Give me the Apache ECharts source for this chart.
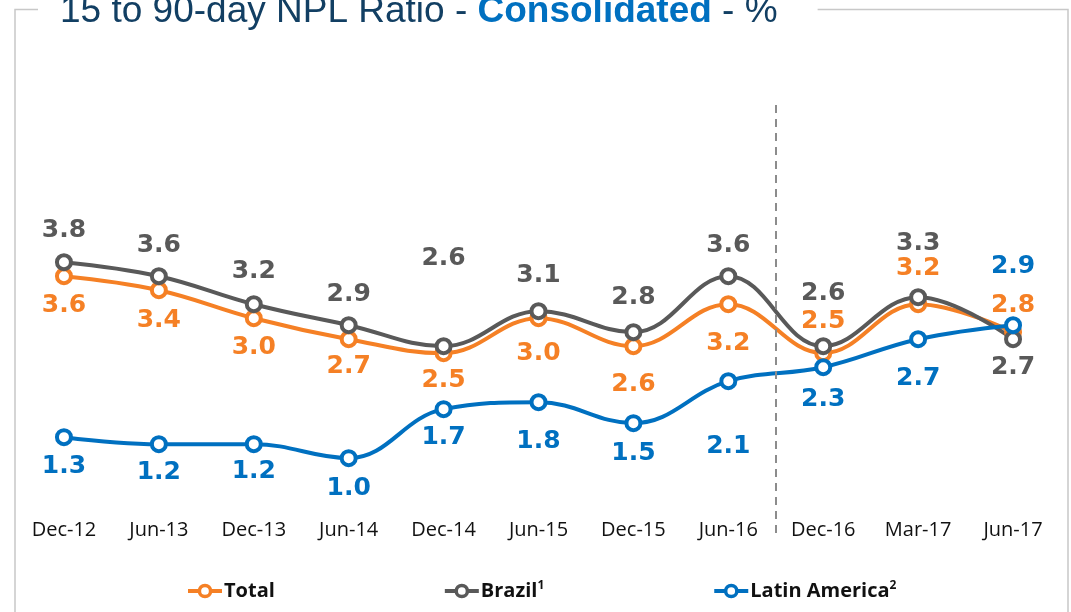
<!DOCTYPE html>
<html lang="en">
<head>
    <meta charset="UTF-8" />
    <title>15 to 90-day NPL Ratio - Consolidated</title>
    <script src="https://cdn.jsdelivr.net/npm/echarts@6/dist/echarts.min.js"></script>
    <style>
        html, body { margin: 0; padding: 0; background: #fff; }
        #main { width: 1071px; height: 612px; }
    </style>
</head>
<body>
<div id="main"></div>
<script>
// data
let categories = ['Dec-12', 'Jun-13', 'Dec-13', 'Jun-14', 'Dec-14', 'Jun-15', 'Dec-15', 'Jun-16', 'Dec-16', 'Mar-17', 'Jun-17'];
let totalValues  = [3.6, 3.4, 3.0, 2.7, 2.5, 3.0, 2.6, 3.2, 2.5, 3.2, 2.8];
let brazilValues = [3.8, 3.6, 3.2, 2.9, 2.6, 3.1, 2.8, 3.6, 2.6, 3.3, 2.7];
let latamValues  = [1.3, 1.2, 1.2, 1.0, 1.7, 1.8, 1.5, 2.1, 2.3, 2.7, 2.9];

// where each value label sits relative to its point (px, negative = above)
let totalLabelDy  = [29, 30, 29, 27, 27, 35, 38, 39, -32, -36, -27];
let brazilLabelDy = [-32, -31, -33, -31, -88, -36, -35, -31, -53, -54, 28];
let latamLabelDy  = [29, 28, 27, 30, 28, 39, 30, 65, 32, 39, -59];

let orange = '#f58025';
let grey = '#595959';
let blue = '#0070c0';

function withLabels(values, dys) {
    return values.map(function (v, i) {
        return { value: v, label: { offset: [0, dys[i]] } };
    });
}

function lineSeries(name, color, values, dys) {
    return {
        name: name,
        type: 'line',
        smooth: 0.4,
        symbol: 'circle',
        symbolSize: 14,
        data: withLabels(values, dys),
        lineStyle: { color: color, width: 4 },
        itemStyle: { color: '#fff', borderColor: color, borderWidth: 4 },
        label: {
            show: true,
            position: 'inside',
            color: color,
            fontFamily: 'DejaVu Sans',
            fontWeight: 'bold',
            fontSize: 25,
            formatter: function (p) { return p.value.toFixed(1); }
        },
        emphasis: { disabled: true },
        animation: false
    };
}

let myChart = echarts.init(document.getElementById('main'));

myChart.setOption({
    backgroundColor: '#fff',
    graphic: [{
        type: 'rect',
        z: -1,
        shape: { x: 15, y: 9.5, width: 1053, height: 700 },
        style: { fill: 'none', stroke: '#c8c8c8', lineWidth: 1.5 }
    }],
    title: {
        text: '{a|15 to 90-day NPL Ratio - }{b|Consolidated}{a| - %}',
        left: 38,
        top: -7,
        padding: [0, 40, 0, 22],
        backgroundColor: '#fff',
        textStyle: {
            fontWeight: 'normal',
            rich: {
                a: { fontFamily: 'Liberation Sans', fontSize: 37, fontWeight: 'normal', color: '#123f63', lineHeight: 37 },
                b: { fontFamily: 'Liberation Sans', fontSize: 37, fontWeight: 'bold', color: blue, lineHeight: 37 }
            }
        }
    },
    legend: {
        left: 181,
        top: 575,
        itemGap: 168,
        itemWidth: 34,
        itemHeight: 14,
        data: ['Total', 'Brazil', 'Latin America'],
        lineStyle: { width: 4 },
        itemStyle: { borderWidth: 3.5 },
        formatter: function (name) {
            if (name === 'Brazil') return '{n|Brazil}{s|1}';
            if (name === 'Latin America') return '{n|Latin America}{s|2}';
            return '{n|' + name + '}';
        },
        textStyle: {
            padding: [0, 0, 0, -3],
            rich: {
                n: { fontFamily: 'Open Sans', fontWeight: 'bold', fontSize: 20, color: '#111' },
                s: { fontFamily: 'Open Sans', fontWeight: 'bold', fontSize: 12, color: '#111', verticalAlign: 'top', padding: [0, 0, 10, 0] }
            }
        }
    },
    grid: { left: 16.5, right: 10.5, top: 102, bottom: 79 },
    xAxis: [{
        type: 'category',
        data: categories,
        boundaryGap: true,
        offset: -23,
        axisLine: { show: false },
        axisTick: { show: false },
        axisLabel: {
            margin: 10,
            interval: 0,
            color: '#111',
            fontFamily: 'Open Sans',
            fontSize: 20
        }
    }, {
        type: 'value',
        min: 0,
        max: 11,
        show: false
    }],
    yAxis: {
        type: 'value',
        min: -0.07,
        max: 6.09,
        show: false,
        splitLine: { show: false }
    },
    series: [
        lineSeries('Total', orange, totalValues, totalLabelDy),
        lineSeries('Brazil', grey, brazilValues, brazilLabelDy),
        lineSeries('Latin America', blue, latamValues, latamLabelDy),
        {
            name: 'divider',
            type: 'line',
            xAxisIndex: 1,
            data: [],
            silent: true,
            animation: false,
            markLine: {
                silent: true,
                symbol: 'none',
                label: { show: false },
                lineStyle: { color: '#8c8c8c', width: 2, type: [8, 6] },
                data: [{ xAxis: 8 }]
            }
        }
    ]
});
</script>
</body>
</html>
